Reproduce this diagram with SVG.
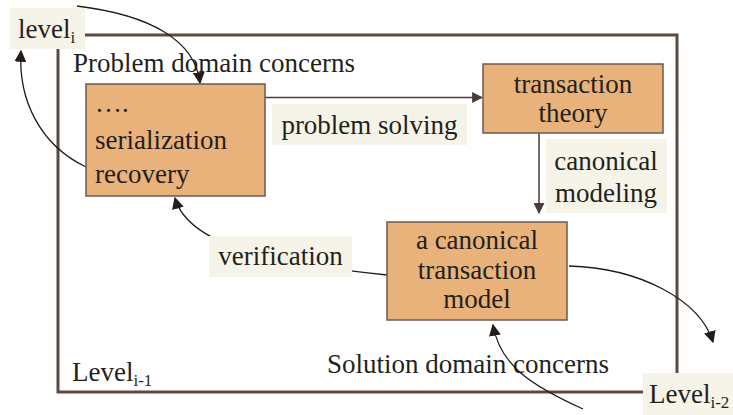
<svg xmlns="http://www.w3.org/2000/svg" width="733" height="415" viewBox="0 0 733 415">
<style>
text{font-family:"Liberation Serif","Times New Roman",serif;font-size:27px;fill:#231f1c}
.box{fill:#e9b27b;stroke:#6a5a50;stroke-width:1.5}
.lbl{fill:#f6f3e8}
.c{stroke:#221c1a;stroke-width:1.3;fill:none}
.cb{stroke:#4a3c36;stroke-width:1.5;fill:none}
.sub{font-size:17px}
</style>
<defs>
<marker id="ah" viewBox="0 0 10 10" refX="9" refY="5" markerWidth="12" markerHeight="12" markerUnits="userSpaceOnUse" orient="auto"><path d="M0,0 L10,5 L0,10 z" fill="#221c1a"/></marker>
<marker id="ahb" viewBox="0 0 10 10" refX="9" refY="5" markerWidth="11" markerHeight="11" markerUnits="userSpaceOnUse" orient="auto"><path d="M0,0 L10,5 L0,10 z" fill="#4a3c36"/></marker>
</defs>
<g id="frame">
<rect x="58" y="35" width="619" height="357" fill="none" stroke="#5b4a42" stroke-width="3"/>
<text x="73" y="72">Problem domain concerns</text>
<text x="72" y="381">Level<tspan class="sub" dy="5">i-1</tspan></text>
<text x="327" y="373">Solution domain concerns</text>
</g>
<g id="label-level-i">
<rect class="lbl" x="10" y="8" width="75" height="41"/>
<text x="18" y="38">level<tspan class="sub" dy="5">i</tspan></text>
</g>
<g id="label-level-i2">
<rect class="lbl" x="643" y="373" width="90" height="42"/>
<text x="649" y="403">Level<tspan class="sub" dy="5">i-2</tspan></text>
</g>
<g id="connectors">
<path class="c" d="M77,6 C150,15 195,40 200,83" marker-end="url(#ah)"/>
<path class="c" d="M86,167 C40,145 18,100 21,51" marker-end="url(#ah)"/>
<path class="cb" d="M265,97.5 L482,97.5" marker-end="url(#ahb)"/>
<path class="cb" d="M539,133 L539,213" marker-end="url(#ahb)"/>
<path class="c" d="M387,275 C300,266 190,252 175,198" marker-end="url(#ah)"/>
<path class="c" d="M569,266 C640,268 700,300 713,342" marker-end="url(#ah)"/>
<path class="c" d="M583,409 C530,385 500,365 493,325" marker-end="url(#ah)"/>
</g>
<g id="label-problem-solving">
<rect class="lbl" x="272" y="104" width="195" height="41"/>
<text x="369.5" y="134" text-anchor="middle">problem solving</text>
</g>
<g id="label-canonical-modeling">
<rect class="lbl" x="546" y="139" width="121" height="74"/>
<text x="606" y="170" text-anchor="middle">canonical</text>
<text x="606" y="202" text-anchor="middle">modeling</text>
</g>
<g id="label-verification">
<rect class="lbl" x="209" y="236" width="143" height="41"/>
<text x="280.5" y="265" text-anchor="middle">verification</text>
</g>
<g id="node-serialization">
<rect class="box" x="86" y="84" width="179" height="112"/>
<text x="95" y="112">….</text>
<text x="95" y="149">serialization</text>
<text x="95" y="183">recovery</text>
</g>
<g id="node-transaction-theory">
<rect class="box" x="483" y="64" width="180" height="69"/>
<text x="573" y="93" text-anchor="middle">transaction</text>
<text x="573" y="122" text-anchor="middle">theory</text>
</g>
<g id="node-canonical-model">
<rect class="box" x="387" y="222" width="180" height="98"/>
<text x="477" y="249" text-anchor="middle">a canonical</text>
<text x="477" y="279" text-anchor="middle">transaction</text>
<text x="477" y="308" text-anchor="middle">model</text>
</g>
</svg>
